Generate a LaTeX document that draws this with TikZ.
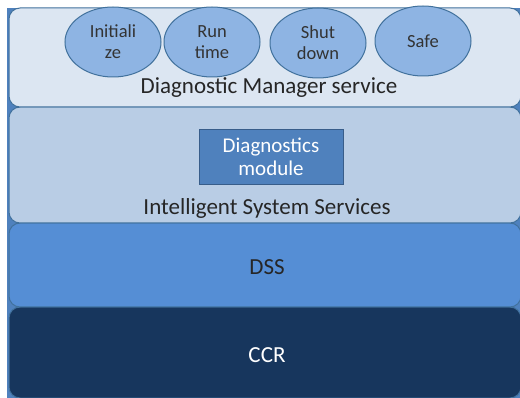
\documentclass[tikz,border=0pt]{standalone}
\usepackage{fontspec}
\setmainfont{Carlito}
\usetikzlibrary{shapes.geometric}
\definecolor{edgeblue}{HTML}{41719C}
\definecolor{frameblue}{HTML}{4F81BD}
\definecolor{mgrfill}{HTML}{DCE6F2}
\definecolor{issfill}{HTML}{B9CDE5}
\definecolor{dssfill}{HTML}{558ED5}
\definecolor{ccrfill}{HTML}{17365D}
\definecolor{ovalfill}{HTML}{8EB4E3}
\definecolor{modfill}{HTML}{4F81BD}
\definecolor{modedge}{HTML}{385D8A}
\tikzset{
  layer/.style={draw=edgeblue, line width=1pt, rounded corners=11pt},
  state/.style={ellipse, draw=edgeblue, line width=1pt, fill=ovalfill,
    minimum width=96pt, minimum height=70pt, inner sep=0pt,
    align=center, font=\fontsize{18.5}{21}\selectfont, text=black!80},
  caption/.style={font=\fontsize{23}{26}\selectfont, text=black!85},
}
\begin{document}
\begin{tikzpicture}[x=1pt,y=-1pt]
  \useasboundingbox (0,0) rectangle (520,398);
  % outer frame
  \fill[frameblue] (7,8) rectangle (520,398);
  % stacked layers
  \draw[layer, fill=ccrfill] (9,307) rectangle (521,398);
  \draw[layer, fill=dssfill] (9,223) rectangle (521,307);
  \draw[layer, fill=issfill] (9,107) rectangle (521,223);
  \draw[layer, fill=mgrfill] (9,8) rectangle (521,107);
  % diagnostic manager states
  \node[state] (init) at (113,42) {Initiali\\ze};
  \node[state] (run)  at (212,42) {Run\\time};
  \node[state] (shut) at (318,43) {Shut\\down};
  \node[state] (safe) at (423,41) {Safe};
  \node[caption] (mgr) at (269,88) {Diagnostic Manager service};
  % intelligent system services
  \node[draw=modedge, line width=1pt, fill=modfill, minimum width=144pt,
        minimum height=55pt, inner sep=0pt, align=center, text=white,
        font=\fontsize{21}{23}\selectfont] (mod) at (271,157) {Diagnostics\\module};
  \node[caption] (iss) at (267,208) {Intelligent System Services};
  \node[caption] (dss) at (267,267) {DSS};
  \node[caption, text=white] (ccr) at (267,355) {CCR};
\end{tikzpicture}
\end{document}
